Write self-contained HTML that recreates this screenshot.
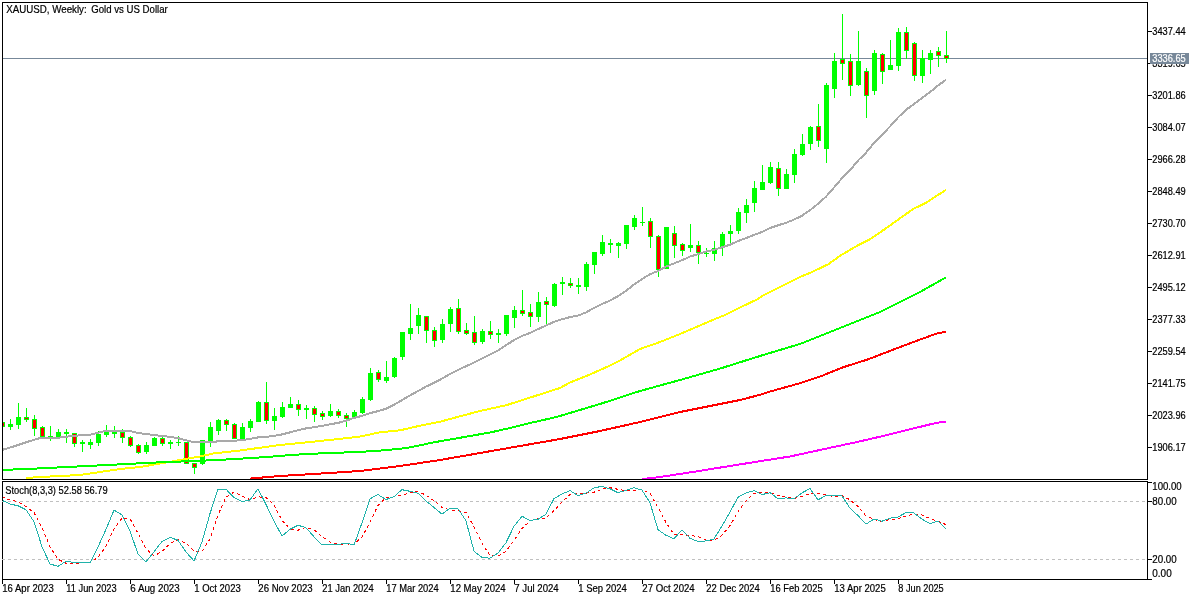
<!DOCTYPE html><html><head><meta charset="utf-8"><style>
html,body{margin:0;padding:0;background:#fff;width:1200px;height:600px;overflow:hidden}
svg{display:block;will-change:transform}
text{font-family:"Liberation Sans",sans-serif;font-size:10px;fill:#000;stroke:#000;stroke-width:0.2px}
</style></head><body>
<svg width="1200" height="600" viewBox="0 0 1200 600">
<rect x="0" y="0" width="1200" height="600" fill="#fff"/>
<defs><clipPath id="cm"><rect x="3" y="3" width="1144" height="476"/></clipPath>
<clipPath id="ci"><rect x="3" y="482" width="1144" height="97"/></clipPath></defs>
<g shape-rendering="crispEdges">
<rect x="3" y="58" width="1144" height="1" fill="#778899"/>
</g>
<g clip-path="url(#cm)" shape-rendering="crispEdges">
<rect x="2" y="421" width="1" height="7" fill="#00ff00"/>
<rect x="0" y="422" width="5" height="5" fill="#00ff00"/>
<rect x="1" y="423" width="3" height="3" fill="#ff0000"/>
<rect x="10" y="419" width="1" height="11" fill="#00ff00"/>
<rect x="8" y="424" width="5" height="3" fill="#00ff00"/>
<rect x="18" y="403" width="1" height="26" fill="#00ff00"/>
<rect x="16" y="417" width="5" height="8" fill="#00ff00"/>
<rect x="26" y="408" width="1" height="14" fill="#00ff00"/>
<rect x="24" y="417" width="5" height="3" fill="#00ff00"/>
<rect x="25" y="418" width="3" height="1" fill="#ff0000"/>
<rect x="34" y="415" width="1" height="21" fill="#00ff00"/>
<rect x="32" y="419" width="5" height="10" fill="#00ff00"/>
<rect x="33" y="420" width="3" height="8" fill="#ff0000"/>
<rect x="42" y="426" width="1" height="12" fill="#00ff00"/>
<rect x="40" y="427" width="5" height="10" fill="#00ff00"/>
<rect x="41" y="428" width="3" height="8" fill="#ff0000"/>
<rect x="50" y="426" width="1" height="15" fill="#00ff00"/>
<rect x="48" y="436" width="5" height="1" fill="#00ff00"/>
<rect x="58" y="429" width="1" height="8" fill="#00ff00"/>
<rect x="56" y="432" width="5" height="5" fill="#00ff00"/>
<rect x="66" y="429" width="1" height="14" fill="#00ff00"/>
<rect x="64" y="432" width="5" height="2" fill="#00ff00"/>
<rect x="74" y="433" width="1" height="14" fill="#00ff00"/>
<rect x="72" y="433" width="5" height="11" fill="#00ff00"/>
<rect x="73" y="434" width="3" height="9" fill="#ff0000"/>
<rect x="82" y="440" width="1" height="12" fill="#00ff00"/>
<rect x="80" y="442" width="5" height="2" fill="#00ff00"/>
<rect x="90" y="439" width="1" height="10" fill="#00ff00"/>
<rect x="88" y="442" width="5" height="3" fill="#00ff00"/>
<rect x="98" y="431" width="1" height="15" fill="#00ff00"/>
<rect x="96" y="434" width="5" height="9" fill="#00ff00"/>
<rect x="106" y="425" width="1" height="12" fill="#00ff00"/>
<rect x="104" y="432" width="5" height="3" fill="#00ff00"/>
<rect x="114" y="426" width="1" height="12" fill="#00ff00"/>
<rect x="112" y="432" width="5" height="2" fill="#00ff00"/>
<rect x="122" y="429" width="1" height="14" fill="#00ff00"/>
<rect x="120" y="432" width="5" height="6" fill="#00ff00"/>
<rect x="121" y="433" width="3" height="4" fill="#ff0000"/>
<rect x="130" y="436" width="1" height="11" fill="#00ff00"/>
<rect x="128" y="437" width="5" height="9" fill="#00ff00"/>
<rect x="129" y="438" width="3" height="7" fill="#ff0000"/>
<rect x="138" y="444" width="1" height="10" fill="#00ff00"/>
<rect x="136" y="445" width="5" height="8" fill="#00ff00"/>
<rect x="137" y="446" width="3" height="6" fill="#ff0000"/>
<rect x="146" y="442" width="1" height="12" fill="#00ff00"/>
<rect x="144" y="445" width="5" height="7" fill="#00ff00"/>
<rect x="154" y="437" width="1" height="9" fill="#00ff00"/>
<rect x="152" y="438" width="5" height="8" fill="#00ff00"/>
<rect x="162" y="437" width="1" height="9" fill="#00ff00"/>
<rect x="160" y="438" width="5" height="6" fill="#00ff00"/>
<rect x="161" y="439" width="3" height="4" fill="#ff0000"/>
<rect x="170" y="440" width="1" height="9" fill="#00ff00"/>
<rect x="168" y="442" width="5" height="2" fill="#00ff00"/>
<rect x="178" y="436" width="1" height="10" fill="#00ff00"/>
<rect x="176" y="442" width="5" height="1" fill="#00ff00"/>
<rect x="186" y="442" width="1" height="22" fill="#00ff00"/>
<rect x="184" y="442" width="5" height="22" fill="#00ff00"/>
<rect x="185" y="443" width="3" height="20" fill="#ff0000"/>
<rect x="194" y="463" width="1" height="11" fill="#00ff00"/>
<rect x="192" y="463" width="5" height="5" fill="#00ff00"/>
<rect x="193" y="464" width="3" height="3" fill="#ff0000"/>
<rect x="202" y="440" width="1" height="25" fill="#00ff00"/>
<rect x="200" y="440" width="5" height="24" fill="#00ff00"/>
<rect x="210" y="422" width="1" height="25" fill="#00ff00"/>
<rect x="208" y="427" width="5" height="14" fill="#00ff00"/>
<rect x="218" y="419" width="1" height="16" fill="#00ff00"/>
<rect x="216" y="420" width="5" height="11" fill="#00ff00"/>
<rect x="226" y="419" width="1" height="12" fill="#00ff00"/>
<rect x="224" y="420" width="5" height="5" fill="#00ff00"/>
<rect x="225" y="421" width="3" height="3" fill="#ff0000"/>
<rect x="234" y="423" width="1" height="16" fill="#00ff00"/>
<rect x="232" y="424" width="5" height="15" fill="#00ff00"/>
<rect x="233" y="425" width="3" height="13" fill="#ff0000"/>
<rect x="242" y="423" width="1" height="16" fill="#00ff00"/>
<rect x="240" y="427" width="5" height="12" fill="#00ff00"/>
<rect x="250" y="419" width="1" height="13" fill="#00ff00"/>
<rect x="248" y="421" width="5" height="7" fill="#00ff00"/>
<rect x="258" y="401" width="1" height="21" fill="#00ff00"/>
<rect x="256" y="402" width="5" height="20" fill="#00ff00"/>
<rect x="266" y="382" width="1" height="42" fill="#00ff00"/>
<rect x="264" y="402" width="5" height="19" fill="#00ff00"/>
<rect x="265" y="403" width="3" height="17" fill="#ff0000"/>
<rect x="274" y="408" width="1" height="22" fill="#00ff00"/>
<rect x="272" y="416" width="5" height="5" fill="#00ff00"/>
<rect x="282" y="402" width="1" height="16" fill="#00ff00"/>
<rect x="280" y="407" width="5" height="10" fill="#00ff00"/>
<rect x="290" y="397" width="1" height="11" fill="#00ff00"/>
<rect x="288" y="404" width="5" height="4" fill="#00ff00"/>
<rect x="298" y="400" width="1" height="16" fill="#00ff00"/>
<rect x="296" y="404" width="5" height="6" fill="#00ff00"/>
<rect x="297" y="405" width="3" height="4" fill="#ff0000"/>
<rect x="306" y="405" width="1" height="14" fill="#00ff00"/>
<rect x="304" y="408" width="5" height="2" fill="#00ff00"/>
<rect x="314" y="406" width="1" height="16" fill="#00ff00"/>
<rect x="312" y="408" width="5" height="7" fill="#00ff00"/>
<rect x="313" y="409" width="3" height="5" fill="#ff0000"/>
<rect x="322" y="411" width="1" height="9" fill="#00ff00"/>
<rect x="320" y="413" width="5" height="4" fill="#00ff00"/>
<rect x="321" y="414" width="3" height="2" fill="#ff0000"/>
<rect x="330" y="404" width="1" height="13" fill="#00ff00"/>
<rect x="328" y="411" width="5" height="5" fill="#00ff00"/>
<rect x="338" y="409" width="1" height="9" fill="#00ff00"/>
<rect x="336" y="411" width="5" height="5" fill="#00ff00"/>
<rect x="337" y="412" width="3" height="3" fill="#ff0000"/>
<rect x="346" y="413" width="1" height="14" fill="#00ff00"/>
<rect x="344" y="415" width="5" height="4" fill="#00ff00"/>
<rect x="345" y="416" width="3" height="2" fill="#ff0000"/>
<rect x="354" y="410" width="1" height="9" fill="#00ff00"/>
<rect x="352" y="412" width="5" height="5" fill="#00ff00"/>
<rect x="362" y="397" width="1" height="17" fill="#00ff00"/>
<rect x="360" y="399" width="5" height="14" fill="#00ff00"/>
<rect x="370" y="368" width="1" height="33" fill="#00ff00"/>
<rect x="368" y="373" width="5" height="27" fill="#00ff00"/>
<rect x="378" y="370" width="1" height="12" fill="#00ff00"/>
<rect x="376" y="372" width="5" height="8" fill="#00ff00"/>
<rect x="377" y="373" width="3" height="6" fill="#ff0000"/>
<rect x="386" y="361" width="1" height="22" fill="#00ff00"/>
<rect x="384" y="377" width="5" height="4" fill="#00ff00"/>
<rect x="394" y="357" width="1" height="21" fill="#00ff00"/>
<rect x="392" y="358" width="5" height="19" fill="#00ff00"/>
<rect x="402" y="332" width="1" height="28" fill="#00ff00"/>
<rect x="400" y="332" width="5" height="25" fill="#00ff00"/>
<rect x="410" y="304" width="1" height="36" fill="#00ff00"/>
<rect x="408" y="328" width="5" height="6" fill="#00ff00"/>
<rect x="418" y="308" width="1" height="26" fill="#00ff00"/>
<rect x="416" y="315" width="5" height="11" fill="#00ff00"/>
<rect x="426" y="316" width="1" height="27" fill="#00ff00"/>
<rect x="424" y="316" width="5" height="15" fill="#00ff00"/>
<rect x="425" y="317" width="3" height="13" fill="#ff0000"/>
<rect x="434" y="327" width="1" height="20" fill="#00ff00"/>
<rect x="432" y="330" width="5" height="11" fill="#00ff00"/>
<rect x="433" y="331" width="3" height="9" fill="#ff0000"/>
<rect x="442" y="319" width="1" height="24" fill="#00ff00"/>
<rect x="440" y="324" width="5" height="16" fill="#00ff00"/>
<rect x="450" y="307" width="1" height="25" fill="#00ff00"/>
<rect x="448" y="309" width="5" height="15" fill="#00ff00"/>
<rect x="458" y="299" width="1" height="35" fill="#00ff00"/>
<rect x="456" y="308" width="5" height="24" fill="#00ff00"/>
<rect x="457" y="309" width="3" height="22" fill="#ff0000"/>
<rect x="466" y="323" width="1" height="12" fill="#00ff00"/>
<rect x="464" y="330" width="5" height="4" fill="#00ff00"/>
<rect x="465" y="331" width="3" height="2" fill="#ff0000"/>
<rect x="474" y="316" width="1" height="29" fill="#00ff00"/>
<rect x="472" y="332" width="5" height="11" fill="#00ff00"/>
<rect x="473" y="333" width="3" height="9" fill="#ff0000"/>
<rect x="482" y="329" width="1" height="15" fill="#00ff00"/>
<rect x="480" y="331" width="5" height="11" fill="#00ff00"/>
<rect x="490" y="321" width="1" height="18" fill="#00ff00"/>
<rect x="488" y="331" width="5" height="4" fill="#00ff00"/>
<rect x="489" y="332" width="3" height="2" fill="#ff0000"/>
<rect x="498" y="329" width="1" height="14" fill="#00ff00"/>
<rect x="496" y="333" width="5" height="2" fill="#00ff00"/>
<rect x="506" y="315" width="1" height="21" fill="#00ff00"/>
<rect x="504" y="315" width="5" height="19" fill="#00ff00"/>
<rect x="514" y="306" width="1" height="22" fill="#00ff00"/>
<rect x="512" y="310" width="5" height="8" fill="#00ff00"/>
<rect x="522" y="290" width="1" height="26" fill="#00ff00"/>
<rect x="520" y="310" width="5" height="4" fill="#00ff00"/>
<rect x="521" y="311" width="3" height="2" fill="#ff0000"/>
<rect x="530" y="304" width="1" height="23" fill="#00ff00"/>
<rect x="528" y="312" width="5" height="5" fill="#00ff00"/>
<rect x="529" y="313" width="3" height="3" fill="#ff0000"/>
<rect x="538" y="292" width="1" height="30" fill="#00ff00"/>
<rect x="536" y="302" width="5" height="15" fill="#00ff00"/>
<rect x="546" y="297" width="1" height="27" fill="#00ff00"/>
<rect x="544" y="301" width="5" height="4" fill="#00ff00"/>
<rect x="545" y="302" width="3" height="2" fill="#ff0000"/>
<rect x="554" y="283" width="1" height="24" fill="#00ff00"/>
<rect x="552" y="284" width="5" height="22" fill="#00ff00"/>
<rect x="562" y="277" width="1" height="18" fill="#00ff00"/>
<rect x="560" y="282" width="5" height="2" fill="#00ff00"/>
<rect x="570" y="278" width="1" height="10" fill="#00ff00"/>
<rect x="568" y="283" width="5" height="3" fill="#00ff00"/>
<rect x="569" y="284" width="3" height="1" fill="#ff0000"/>
<rect x="578" y="278" width="1" height="16" fill="#00ff00"/>
<rect x="576" y="285" width="5" height="2" fill="#00ff00"/>
<rect x="586" y="262" width="1" height="29" fill="#00ff00"/>
<rect x="584" y="264" width="5" height="23" fill="#00ff00"/>
<rect x="594" y="252" width="1" height="22" fill="#00ff00"/>
<rect x="592" y="252" width="5" height="13" fill="#00ff00"/>
<rect x="602" y="235" width="1" height="21" fill="#00ff00"/>
<rect x="600" y="242" width="5" height="12" fill="#00ff00"/>
<rect x="610" y="239" width="1" height="14" fill="#00ff00"/>
<rect x="608" y="243" width="5" height="2" fill="#00ff00"/>
<rect x="618" y="242" width="1" height="16" fill="#00ff00"/>
<rect x="616" y="243" width="5" height="3" fill="#00ff00"/>
<rect x="626" y="225" width="1" height="24" fill="#00ff00"/>
<rect x="624" y="225" width="5" height="19" fill="#00ff00"/>
<rect x="634" y="215" width="1" height="15" fill="#00ff00"/>
<rect x="632" y="218" width="5" height="9" fill="#00ff00"/>
<rect x="642" y="207" width="1" height="19" fill="#00ff00"/>
<rect x="640" y="222" width="5" height="1" fill="#00ff00"/>
<rect x="650" y="218" width="1" height="30" fill="#00ff00"/>
<rect x="648" y="221" width="5" height="16" fill="#00ff00"/>
<rect x="649" y="222" width="3" height="14" fill="#ff0000"/>
<rect x="658" y="235" width="1" height="42" fill="#00ff00"/>
<rect x="656" y="236" width="5" height="34" fill="#00ff00"/>
<rect x="657" y="237" width="3" height="32" fill="#ff0000"/>
<rect x="666" y="227" width="1" height="42" fill="#00ff00"/>
<rect x="664" y="227" width="5" height="42" fill="#00ff00"/>
<rect x="674" y="226" width="1" height="32" fill="#00ff00"/>
<rect x="672" y="233" width="5" height="13" fill="#00ff00"/>
<rect x="673" y="234" width="3" height="11" fill="#ff0000"/>
<rect x="682" y="243" width="1" height="13" fill="#00ff00"/>
<rect x="680" y="244" width="5" height="7" fill="#00ff00"/>
<rect x="681" y="245" width="3" height="5" fill="#ff0000"/>
<rect x="690" y="224" width="1" height="28" fill="#00ff00"/>
<rect x="688" y="245" width="5" height="3" fill="#00ff00"/>
<rect x="698" y="241" width="1" height="23" fill="#00ff00"/>
<rect x="696" y="245" width="5" height="8" fill="#00ff00"/>
<rect x="697" y="246" width="3" height="6" fill="#ff0000"/>
<rect x="706" y="248" width="1" height="9" fill="#00ff00"/>
<rect x="704" y="253" width="5" height="1" fill="#00ff00"/>
<rect x="714" y="241" width="1" height="20" fill="#00ff00"/>
<rect x="712" y="248" width="5" height="6" fill="#00ff00"/>
<rect x="722" y="232" width="1" height="24" fill="#00ff00"/>
<rect x="720" y="234" width="5" height="13" fill="#00ff00"/>
<rect x="730" y="225" width="1" height="18" fill="#00ff00"/>
<rect x="728" y="231" width="5" height="3" fill="#00ff00"/>
<rect x="738" y="208" width="1" height="26" fill="#00ff00"/>
<rect x="736" y="212" width="5" height="19" fill="#00ff00"/>
<rect x="746" y="199" width="1" height="24" fill="#00ff00"/>
<rect x="744" y="205" width="5" height="8" fill="#00ff00"/>
<rect x="754" y="181" width="1" height="31" fill="#00ff00"/>
<rect x="752" y="188" width="5" height="15" fill="#00ff00"/>
<rect x="762" y="165" width="1" height="25" fill="#00ff00"/>
<rect x="760" y="182" width="5" height="8" fill="#00ff00"/>
<rect x="770" y="162" width="1" height="22" fill="#00ff00"/>
<rect x="768" y="167" width="5" height="16" fill="#00ff00"/>
<rect x="778" y="162" width="1" height="34" fill="#00ff00"/>
<rect x="776" y="168" width="5" height="21" fill="#00ff00"/>
<rect x="777" y="169" width="3" height="19" fill="#ff0000"/>
<rect x="786" y="169" width="1" height="20" fill="#00ff00"/>
<rect x="784" y="174" width="5" height="15" fill="#00ff00"/>
<rect x="794" y="149" width="1" height="34" fill="#00ff00"/>
<rect x="792" y="154" width="5" height="21" fill="#00ff00"/>
<rect x="802" y="134" width="1" height="22" fill="#00ff00"/>
<rect x="800" y="144" width="5" height="11" fill="#00ff00"/>
<rect x="810" y="126" width="1" height="24" fill="#00ff00"/>
<rect x="808" y="127" width="5" height="17" fill="#00ff00"/>
<rect x="818" y="104" width="1" height="43" fill="#00ff00"/>
<rect x="816" y="126" width="5" height="15" fill="#00ff00"/>
<rect x="817" y="127" width="3" height="13" fill="#ff0000"/>
<rect x="826" y="83" width="1" height="80" fill="#00ff00"/>
<rect x="824" y="85" width="5" height="64" fill="#00ff00"/>
<rect x="834" y="53" width="1" height="45" fill="#00ff00"/>
<rect x="832" y="61" width="5" height="28" fill="#00ff00"/>
<rect x="842" y="14" width="1" height="66" fill="#00ff00"/>
<rect x="840" y="59" width="5" height="5" fill="#00ff00"/>
<rect x="841" y="60" width="3" height="3" fill="#ff0000"/>
<rect x="850" y="54" width="1" height="42" fill="#00ff00"/>
<rect x="848" y="61" width="5" height="25" fill="#00ff00"/>
<rect x="849" y="62" width="3" height="23" fill="#ff0000"/>
<rect x="858" y="31" width="1" height="55" fill="#00ff00"/>
<rect x="856" y="61" width="5" height="24" fill="#00ff00"/>
<rect x="866" y="68" width="1" height="50" fill="#00ff00"/>
<rect x="864" y="71" width="5" height="25" fill="#00ff00"/>
<rect x="865" y="72" width="3" height="23" fill="#ff0000"/>
<rect x="874" y="50" width="1" height="45" fill="#00ff00"/>
<rect x="872" y="53" width="5" height="38" fill="#00ff00"/>
<rect x="882" y="53" width="1" height="31" fill="#00ff00"/>
<rect x="880" y="54" width="5" height="18" fill="#00ff00"/>
<rect x="881" y="55" width="3" height="16" fill="#ff0000"/>
<rect x="890" y="40" width="1" height="30" fill="#00ff00"/>
<rect x="888" y="65" width="5" height="5" fill="#00ff00"/>
<rect x="898" y="28" width="1" height="43" fill="#00ff00"/>
<rect x="896" y="32" width="5" height="34" fill="#00ff00"/>
<rect x="906" y="27" width="1" height="32" fill="#00ff00"/>
<rect x="904" y="32" width="5" height="19" fill="#00ff00"/>
<rect x="905" y="33" width="3" height="17" fill="#ff0000"/>
<rect x="914" y="42" width="1" height="39" fill="#00ff00"/>
<rect x="912" y="43" width="5" height="33" fill="#00ff00"/>
<rect x="913" y="44" width="3" height="31" fill="#ff0000"/>
<rect x="922" y="50" width="1" height="33" fill="#00ff00"/>
<rect x="920" y="58" width="5" height="18" fill="#00ff00"/>
<rect x="930" y="50" width="1" height="24" fill="#00ff00"/>
<rect x="928" y="53" width="5" height="7" fill="#00ff00"/>
<rect x="938" y="47" width="1" height="20" fill="#00ff00"/>
<rect x="936" y="51" width="5" height="5" fill="#00ff00"/>
<rect x="937" y="52" width="3" height="3" fill="#ff0000"/>
<rect x="946" y="31" width="1" height="32" fill="#00ff00"/>
<rect x="944" y="55" width="5" height="4" fill="#00ff00"/>
<rect x="945" y="56" width="3" height="2" fill="#ff0000"/>
</g>
<g clip-path="url(#cm)">
<polyline points="642.0,479.0 658.0,477.3 697.0,471.3 730.0,466.0 763.0,460.7 790.0,456.5 823.0,449.3 857.0,442.0 883.0,436.0 910.0,429.3 937.0,422.7 946.0,421.7" fill="none" stroke="#ff00ff" stroke-width="2" stroke-linejoin="round" shape-rendering="crispEdges" />
<polyline points="250.0,478.6 280.0,476.0 320.0,473.6 360.0,471.0 400.0,466.0 440.0,460.0 480.0,453.0 520.0,446.0 560.0,439.0 600.0,431.0 640.0,422.0 680.0,412.0 720.0,404.0 740.0,400.0 760.0,394.8 770.0,391.5 780.0,388.8 800.0,383.2 820.0,376.6 843.0,367.3 867.0,359.7 890.0,350.9 913.0,342.2 937.0,333.4 946.0,331.7" fill="none" stroke="#ff0000" stroke-width="2" stroke-linejoin="round" shape-rendering="crispEdges" />
<polyline points="26.0,478.0 40.0,477.0 80.0,475.0 120.0,469.0 140.0,467.0 160.0,463.5 172.0,461.5 187.0,458.7 200.0,456.5 213.0,453.5 240.0,450.5 280.0,445.0 320.0,441.0 360.0,436.6 380.0,432.3 400.0,430.3 420.0,425.7 440.0,421.7 460.0,416.3 480.0,411.0 507.0,405.0 560.0,388.0 570.0,382.5 590.0,374.5 610.0,365.5 620.0,360.5 640.0,349.0 660.0,342.0 680.0,334.0 700.0,325.5 715.0,319.0 725.0,315.0 740.0,307.5 758.0,299.0 762.0,296.0 780.0,287.0 800.0,277.0 810.0,272.9 828.0,264.4 841.0,255.2 858.0,245.3 869.5,239.6 885.0,229.0 902.0,216.9 913.0,209.1 926.0,202.8 946.0,189.8" fill="none" stroke="#ffff00" stroke-width="2" stroke-linejoin="round" shape-rendering="crispEdges" />
<polyline points="0.0,470.0 27.0,469.0 47.0,468.0 67.0,467.0 87.0,466.0 107.0,465.0 127.0,464.0 146.0,463.0 167.0,462.0 195.0,461.0 218.0,460.0 235.0,459.0 251.0,458.0 267.0,457.0 279.0,456.0 291.0,455.0 307.0,454.0 330.0,453.0 358.0,452.0 375.0,451.0 387.0,450.0 398.0,449.0 406.0,448.0 414.0,446.5 422.0,445.0 430.0,443.0 450.0,439.5 470.0,436.0 490.0,432.5 510.0,428.0 530.0,423.0 550.0,418.5 560.0,416.0 600.0,404.0 640.0,391.0 680.0,380.0 720.0,368.6 760.0,356.0 800.0,344.0 840.0,328.0 880.0,312.0 920.0,292.0 946.0,277.4" fill="none" stroke="#00ff00" stroke-width="2" stroke-linejoin="round" shape-rendering="crispEdges" />
<polyline points="2.0,450.0 13.0,446.7 27.0,442.0 42.0,437.5 60.0,437.5 75.0,435.7 90.0,434.7 104.0,431.3 128.0,430.7 140.0,433.3 150.0,434.5 154.0,435.1 162.0,435.9 170.0,436.9 178.0,438.1 186.0,440.3 194.0,442.2 202.0,442.4 210.0,442.0 218.0,441.4 226.0,441.0 234.0,440.8 242.0,440.0 250.0,438.9 258.0,437.4 266.0,436.8 274.0,435.9 282.0,434.4 290.0,432.4 298.0,430.2 306.0,428.4 314.0,427.2 322.0,425.9 330.0,424.3 338.0,422.9 346.0,420.7 354.0,417.9 362.0,415.9 370.0,413.2 378.0,411.1 386.0,408.8 394.0,404.8 402.0,400.1 410.0,395.4 418.0,391.1 426.0,386.6 434.0,382.8 442.0,378.6 450.0,373.9 458.0,369.9 466.0,366.2 474.0,362.6 482.0,358.4 490.0,354.5 498.0,350.4 506.0,345.2 514.0,340.1 522.0,335.9 530.0,333.0 538.0,329.1 546.0,325.5 554.0,321.8 562.0,319.3 570.0,317.1 578.0,315.6 586.0,312.4 594.0,307.9 602.0,303.9 610.0,300.6 618.0,296.1 626.0,290.8 634.0,284.6 642.0,279.1 650.0,274.2 658.0,271.0 666.0,266.6 674.0,263.4 682.0,260.2 690.0,256.6 698.0,254.2 706.0,251.6 714.0,249.8 722.0,247.4 730.0,244.7 738.0,241.1 746.0,238.1 754.0,234.9 762.0,231.9 770.0,228.1 778.0,225.3 786.0,222.8 794.0,219.6 802.0,215.7 810.0,210.2 818.0,203.8 826.0,196.7 834.0,187.5 842.0,178.2 850.0,170.2 858.0,160.6 866.0,152.7 874.0,142.9 882.0,134.8 890.0,126.5 898.0,117.5 906.0,109.8 914.0,104.1 922.0,97.9 930.0,92.2 938.0,85.5 946.0,79.8" fill="none" stroke="#a9a9a9" stroke-width="2" stroke-linejoin="round" shape-rendering="crispEdges" />
</g>
<g shape-rendering="crispEdges" fill="none" stroke="#000" stroke-width="1">
<rect x="2.5" y="2.5" width="1145" height="477"/>
<rect x="2.5" y="481.5" width="1145" height="98"/>
</g>
<g shape-rendering="crispEdges">
<rect x="1148" y="31" width="4" height="1" fill="#000"/>
<rect x="1148" y="63" width="4" height="1" fill="#000"/>
<rect x="1148" y="95" width="4" height="1" fill="#000"/>
<rect x="1148" y="127" width="4" height="1" fill="#000"/>
<rect x="1148" y="159" width="4" height="1" fill="#000"/>
<rect x="1148" y="191" width="4" height="1" fill="#000"/>
<rect x="1148" y="223" width="4" height="1" fill="#000"/>
<rect x="1148" y="255" width="4" height="1" fill="#000"/>
<rect x="1148" y="287" width="4" height="1" fill="#000"/>
<rect x="1148" y="319" width="4" height="1" fill="#000"/>
<rect x="1148" y="351" width="4" height="1" fill="#000"/>
<rect x="1148" y="383" width="4" height="1" fill="#000"/>
<rect x="1148" y="415" width="4" height="1" fill="#000"/>
<rect x="1148" y="447" width="4" height="1" fill="#000"/>
<rect x="1148" y="482" width="4" height="1" fill="#000"/>
<rect x="1148" y="501" width="4" height="1" fill="#000"/>
<rect x="1148" y="559" width="4" height="1" fill="#000"/>
<rect x="1148" y="579" width="4" height="1" fill="#000"/>
<rect x="2" y="580" width="1" height="4" fill="#000"/>
<rect x="66" y="580" width="1" height="4" fill="#000"/>
<rect x="130" y="580" width="1" height="4" fill="#000"/>
<rect x="194" y="580" width="1" height="4" fill="#000"/>
<rect x="258" y="580" width="1" height="4" fill="#000"/>
<rect x="322" y="580" width="1" height="4" fill="#000"/>
<rect x="386" y="580" width="1" height="4" fill="#000"/>
<rect x="450" y="580" width="1" height="4" fill="#000"/>
<rect x="514" y="580" width="1" height="4" fill="#000"/>
<rect x="578" y="580" width="1" height="4" fill="#000"/>
<rect x="642" y="580" width="1" height="4" fill="#000"/>
<rect x="706" y="580" width="1" height="4" fill="#000"/>
<rect x="770" y="580" width="1" height="4" fill="#000"/>
<rect x="834" y="580" width="1" height="4" fill="#000"/>
<rect x="898" y="580" width="1" height="4" fill="#000"/>
</g>
<g shape-rendering="crispEdges">
<line x1="2" y1="501.5" x2="1147" y2="501.5" stroke="#c0c0c0" stroke-width="1" stroke-dasharray="3,3"/>
<line x1="2" y1="559.5" x2="1147" y2="559.5" stroke="#c0c0c0" stroke-width="1" stroke-dasharray="3,3"/>
</g>
<g clip-path="url(#ci)">
<polyline points="2.0,496.7 10.0,500.0 18.0,501.7 26.0,506.7 34.0,512.5 42.0,527.5 50.0,546.7 58.0,559.2 66.0,563.3 74.0,563.3 82.0,562.8 90.0,562.5 98.0,557.4 106.0,546.3 114.0,528.8 122.0,518.1 130.0,518.7 138.0,533.3 146.0,548.9 154.0,555.9 162.0,551.6 170.0,543.5 178.0,539.7 186.0,543.3 194.0,551.0 202.0,551.6 210.0,538.8 218.0,515.0 226.0,497.4 234.0,492.0 242.0,496.1 250.0,499.7 258.0,496.8 266.0,497.7 274.0,504.8 282.0,520.5 290.0,528.8 298.0,530.2 306.0,527.4 314.0,529.9 322.0,536.4 330.0,541.9 338.0,544.5 346.0,543.9 354.0,544.3 362.0,537.0 370.0,522.3 378.0,505.4 386.0,497.7 394.0,496.9 402.0,495.3 410.0,492.5 418.0,491.4 426.0,495.2 434.0,500.6 442.0,507.5 450.0,510.0 458.0,510.4 466.0,512.6 474.0,526.9 482.0,543.1 490.0,555.6 498.0,556.2 506.0,551.3 514.0,540.7 522.0,528.4 530.0,521.0 538.0,518.7 546.0,518.0 554.0,510.6 562.0,502.2 570.0,494.4 578.0,493.4 586.0,493.1 594.0,492.2 602.0,489.1 610.0,487.7 618.0,489.3 626.0,490.6 634.0,490.3 642.0,489.4 650.0,493.5 658.0,507.5 666.0,522.5 674.0,534.6 682.0,534.6 690.0,535.6 698.0,536.5 706.0,540.2 714.0,540.4 722.0,535.2 730.0,525.6 738.0,511.7 746.0,500.7 754.0,493.6 762.0,492.7 770.0,492.7 778.0,495.4 786.0,496.5 794.0,498.5 802.0,496.5 810.0,493.4 818.0,493.7 826.0,494.6 834.0,496.9 842.0,495.6 850.0,499.8 858.0,506.5 866.0,515.9 874.0,519.5 882.0,521.4 890.0,519.5 898.0,518.8 906.0,516.0 914.0,514.2 922.0,514.9 930.0,518.6 938.0,521.4 946.0,524.6" fill="none" stroke="#ff0000" stroke-width="1" stroke-linejoin="round" shape-rendering="crispEdges" stroke-dasharray="3,3"/>
<polyline points="2.0,500.3 10.0,504.0 18.0,505.8 26.0,509.7 34.0,521.7 42.0,546.7 50.0,564.0 58.0,566.3 66.0,561.3 74.0,562.4 82.0,562.4 90.0,562.8 98.0,546.9 106.0,529.3 114.0,510.2 122.0,514.8 130.0,531.0 138.0,554.0 146.0,561.8 154.0,551.8 162.0,541.4 170.0,537.4 178.0,540.2 186.0,552.1 194.0,560.8 202.0,542.0 210.0,513.5 218.0,489.3 226.0,489.2 234.0,497.5 242.0,501.7 250.0,499.9 258.0,488.7 266.0,504.5 274.0,521.2 282.0,536.0 290.0,529.3 298.0,525.2 306.0,527.7 314.0,536.7 322.0,544.9 330.0,544.1 338.0,544.7 346.0,543.0 354.0,545.1 362.0,522.9 370.0,498.8 378.0,494.5 386.0,499.6 394.0,496.6 402.0,489.7 410.0,491.3 418.0,493.2 426.0,501.0 434.0,507.5 442.0,514.1 450.0,508.3 458.0,508.7 466.0,520.8 474.0,551.2 482.0,557.5 490.0,558.2 498.0,553.0 506.0,542.7 514.0,526.3 522.0,516.2 530.0,520.5 538.0,519.3 546.0,514.2 554.0,498.5 562.0,494.0 570.0,490.6 578.0,495.5 586.0,493.2 594.0,487.8 602.0,486.4 610.0,488.8 618.0,492.7 626.0,490.3 634.0,487.7 642.0,490.1 650.0,502.6 658.0,529.7 666.0,535.3 674.0,538.7 682.0,529.8 690.0,538.3 698.0,541.5 706.0,540.9 714.0,538.9 722.0,526.0 730.0,512.0 738.0,497.3 746.0,492.9 754.0,490.7 762.0,494.6 770.0,492.7 778.0,498.8 786.0,497.9 794.0,498.7 802.0,492.9 810.0,488.5 818.0,499.8 826.0,495.6 834.0,495.4 842.0,495.9 850.0,508.2 858.0,515.6 866.0,524.1 874.0,519.0 882.0,521.2 890.0,518.2 898.0,517.0 906.0,512.6 914.0,513.0 922.0,519.1 930.0,523.7 938.0,521.2 946.0,528.8" fill="none" stroke="#20b2aa" stroke-width="1" stroke-linejoin="round" shape-rendering="crispEdges" />
</g>
<text x="1152.3" y="35" textLength="33.4" lengthAdjust="spacingAndGlyphs" xml:space="preserve">3437.44</text>
<text x="1152.3" y="67" textLength="33.4" lengthAdjust="spacingAndGlyphs" xml:space="preserve">3319.65</text>
<text x="1152.3" y="99" textLength="33.4" lengthAdjust="spacingAndGlyphs" xml:space="preserve">3201.86</text>
<text x="1152.3" y="131" textLength="33.4" lengthAdjust="spacingAndGlyphs" xml:space="preserve">3084.07</text>
<text x="1152.3" y="163" textLength="33.4" lengthAdjust="spacingAndGlyphs" xml:space="preserve">2966.28</text>
<text x="1152.3" y="195" textLength="33.4" lengthAdjust="spacingAndGlyphs" xml:space="preserve">2848.49</text>
<text x="1152.3" y="227" textLength="33.4" lengthAdjust="spacingAndGlyphs" xml:space="preserve">2730.70</text>
<text x="1152.3" y="259" textLength="33.4" lengthAdjust="spacingAndGlyphs" xml:space="preserve">2612.91</text>
<text x="1152.3" y="291" textLength="33.4" lengthAdjust="spacingAndGlyphs" xml:space="preserve">2495.12</text>
<text x="1152.3" y="323" textLength="33.4" lengthAdjust="spacingAndGlyphs" xml:space="preserve">2377.33</text>
<text x="1152.3" y="355" textLength="33.4" lengthAdjust="spacingAndGlyphs" xml:space="preserve">2259.54</text>
<text x="1152.3" y="387" textLength="33.4" lengthAdjust="spacingAndGlyphs" xml:space="preserve">2141.75</text>
<text x="1152.3" y="419" textLength="33.4" lengthAdjust="spacingAndGlyphs" xml:space="preserve">2023.96</text>
<text x="1152.3" y="451" textLength="33.4" lengthAdjust="spacingAndGlyphs" xml:space="preserve">1906.17</text>
<rect x="1150" y="53" width="39" height="11" fill="#778899" shape-rendering="crispEdges"/>
<text x="1152.3" y="62" textLength="33.4" lengthAdjust="spacingAndGlyphs" xml:space="preserve" style="fill:#fff;stroke:#fff">3336.65</text>
<text x="1152.3" y="490" textLength="29.4" lengthAdjust="spacingAndGlyphs" xml:space="preserve">100.00</text>
<text x="1152.3" y="505" textLength="24.4" lengthAdjust="spacingAndGlyphs" xml:space="preserve">80.00</text>
<text x="1152.3" y="563" textLength="24.4" lengthAdjust="spacingAndGlyphs" xml:space="preserve">20.00</text>
<text x="1152.3" y="577" textLength="19.4" lengthAdjust="spacingAndGlyphs" xml:space="preserve">0.00</text>
<text x="2.3" y="592" textLength="51.4" lengthAdjust="spacingAndGlyphs" xml:space="preserve">16 Apr 2023</text>
<text x="66.3" y="592" textLength="50.4" lengthAdjust="spacingAndGlyphs" xml:space="preserve">11 Jun 2023</text>
<text x="130.3" y="592" textLength="49.4" lengthAdjust="spacingAndGlyphs" xml:space="preserve">6 Aug 2023</text>
<text x="194.3" y="592" textLength="46.4" lengthAdjust="spacingAndGlyphs" xml:space="preserve">1 Oct 2023</text>
<text x="258.3" y="592" textLength="54.4" lengthAdjust="spacingAndGlyphs" xml:space="preserve">26 Nov 2023</text>
<text x="322.3" y="592" textLength="51.4" lengthAdjust="spacingAndGlyphs" xml:space="preserve">21 Jan 2024</text>
<text x="386.3" y="592" textLength="52.4" lengthAdjust="spacingAndGlyphs" xml:space="preserve">17 Mar 2024</text>
<text x="450.3" y="592" textLength="55.4" lengthAdjust="spacingAndGlyphs" xml:space="preserve">12 May 2024</text>
<text x="514.3" y="592" textLength="44.4" lengthAdjust="spacingAndGlyphs" xml:space="preserve">7 Jul 2024</text>
<text x="578.3" y="592" textLength="48.4" lengthAdjust="spacingAndGlyphs" xml:space="preserve">1 Sep 2024</text>
<text x="642.3" y="592" textLength="52.4" lengthAdjust="spacingAndGlyphs" xml:space="preserve">27 Oct 2024</text>
<text x="706.3" y="592" textLength="53.4" lengthAdjust="spacingAndGlyphs" xml:space="preserve">22 Dec 2024</text>
<text x="770.3" y="592" textLength="52.4" lengthAdjust="spacingAndGlyphs" xml:space="preserve">16 Feb 2025</text>
<text x="834.3" y="592" textLength="51.4" lengthAdjust="spacingAndGlyphs" xml:space="preserve">13 Apr 2025</text>
<text x="898.3" y="592" textLength="45.4" lengthAdjust="spacingAndGlyphs" xml:space="preserve">8 Jun 2025</text>
<text x="6.3" y="13" textLength="80.4" lengthAdjust="spacingAndGlyphs" xml:space="preserve">XAUUSD, Weekly:</text>
<text x="91.3" y="13" textLength="76.4" lengthAdjust="spacingAndGlyphs" xml:space="preserve">Gold vs US Dollar</text>
<text x="5.3" y="494" textLength="102.4" lengthAdjust="spacingAndGlyphs" xml:space="preserve">Stoch(8,3,3) 52.58 56.79</text>
</svg></body></html>
